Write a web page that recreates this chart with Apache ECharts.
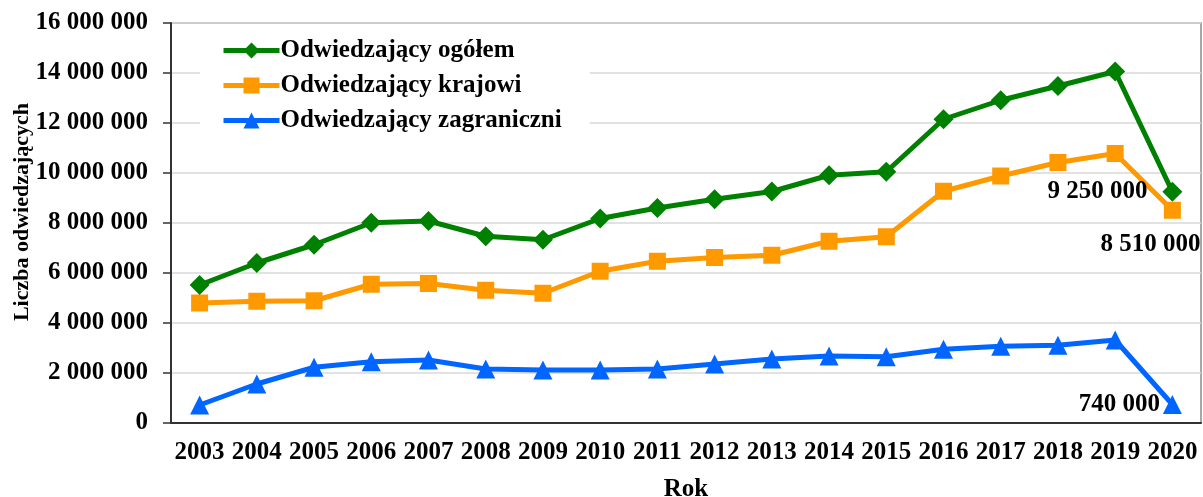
<!DOCTYPE html>
<html lang="pl">
<head>
    <meta charset="UTF-8">
    <title>Liczba odwiedzających</title>
    <script type="text/javascript" src="https://cdn.jsdelivr.net/npm/echarts@6/dist/echarts.min.js"></script>
    <style>
        html, body { margin: 0; padding: 0; background: #fff; }
    </style>
</head>
<body>
    <div id="main" style="width: 1203px;height:497px;"></div>
    <script type="text/javascript">
        var years = ['2003', '2004', '2005', '2006', '2007', '2008', '2009', '2010', '2011',
            '2012', '2013', '2014', '2015', '2016', '2017', '2018', '2019', '2020'];
        var ogolem = [5520000, 6400000, 7130000, 8010000, 8080000, 7470000, 7330000, 8180000, 8600000,
            8950000, 9260000, 9910000, 10050000, 12150000, 12910000, 13480000, 14060000, 9250000];
        var krajowi = [4800000, 4870000, 4890000, 5550000, 5580000, 5310000, 5190000, 6070000, 6470000,
            6620000, 6710000, 7270000, 7450000, 9270000, 9880000, 10420000, 10780000, 8510000];
        var zagraniczni = [720000, 1560000, 2230000, 2450000, 2520000, 2160000, 2120000, 2120000, 2160000,
            2360000, 2560000, 2680000, 2650000, 2950000, 3070000, 3110000, 3320000, 740000];

        var font = "'Liberation Serif', 'Times New Roman', serif";

        function fmt(v) {
            return String(v).replace(/\B(?=(\d{3})+(?!\d))/g, ' ');
        }

        // etykieta tylko przy ostatnim punkcie
        function lastLabel(p) {
            return p.dataIndex === years.length - 1 ? fmt(p.value) : '';
        }

        var myChart = echarts.init(document.getElementById('main'));

        var option = {
            textStyle: { fontFamily: font },
            grid: {
                left: 171, right: 2, top: 23, bottom: 74,
                outerBoundsMode: 'none',
                show: true, borderColor: '#8c8c8c', borderWidth: 1.5
            },
            legend: {
                left: 200, top: 32, orient: 'vertical',
                backgroundColor: '#fff',
                padding: [6, 28, 12, 21],
                itemGap: 10, itemWidth: 56, itemHeight: 20,
                lineStyle: { width: 5 },
                textStyle: { fontFamily: font, fontSize: 25, fontWeight: 'bold', color: '#000', padding: [0, 0, 0, -4] },
                data: ['Odwiedzający ogółem', 'Odwiedzający krajowi', 'Odwiedzający zagraniczni']
            },
            xAxis: {
                type: 'category',
                data: years,
                name: 'Rok',
                nameLocation: 'middle',
                nameGap: 54,
                nameMoveOverlap: false,
                nameTextStyle: { fontFamily: font, fontSize: 25, fontWeight: 'bold', color: '#000' },
                axisLine: { lineStyle: { color: '#333', width: 2 } },
                axisTick: { length: 8, lineStyle: { color: '#333', width: 1.5 } },
                axisLabel: { interval: 0, margin: 17, fontFamily: font, fontSize: 25, fontWeight: 'bold', color: '#000' }
            },
            yAxis: {
                type: 'value',
                min: 0, max: 16000000, interval: 2000000,
                name: 'Liczba odwiedzających',
                nameLocation: 'middle',
                nameRotate: 90,
                nameGap: 138,
                nameMoveOverlap: false,
                nameTextStyle: {
                    fontFamily: font, fontSize: 22, fontWeight: 'bold', color: '#000',
                    padding: [0, 0, 0, 22]
                },
                axisLine: { show: true, lineStyle: { color: '#333', width: 2 } },
                axisTick: { show: true, length: 8, lineStyle: { color: '#333', width: 1.5 } },
                splitLine: { lineStyle: { color: '#d9d9d9', width: 1.5 } },
                axisLabel: {
                    margin: 23, fontFamily: font, fontSize: 25, fontWeight: 'bold', color: '#000',
                    formatter: fmt
                }
            },
            series: [{
                name: 'Odwiedzający ogółem',
                type: 'line',
                data: ogolem,
                symbol: 'diamond', symbolSize: 20,
                itemStyle: { color: '#008000' },
                lineStyle: { width: 5 },
                z: 3,
                label: {
                    show: true, position: 'left', distance: 15,
                    fontFamily: font, fontSize: 25, fontWeight: 'bold', color: '#000',
                    formatter: lastLabel
                }
            }, {
                name: 'Odwiedzający krajowi',
                type: 'line',
                data: krajowi,
                symbol: 'rect', symbolSize: 17,
                itemStyle: { color: '#ff9900' },
                lineStyle: { width: 5 },
                z: 2,
                label: {
                    show: true, position: 'bottom', distance: 13, offset: [-22, 0],
                    fontFamily: font, fontSize: 25, fontWeight: 'bold', color: '#000',
                    formatter: lastLabel
                }
            }, {
                name: 'Odwiedzający zagraniczni',
                type: 'line',
                data: zagraniczni,
                symbol: 'triangle', symbolSize: 19,
                itemStyle: { color: '#0066ff' },
                lineStyle: { width: 5 },
                z: 2,
                label: {
                    show: true, position: 'left', distance: 3,
                    fontFamily: font, fontSize: 25, fontWeight: 'bold', color: '#000',
                    formatter: lastLabel
                }
            }]
        };

        myChart.setOption(option);
    </script>
</body>
</html>
